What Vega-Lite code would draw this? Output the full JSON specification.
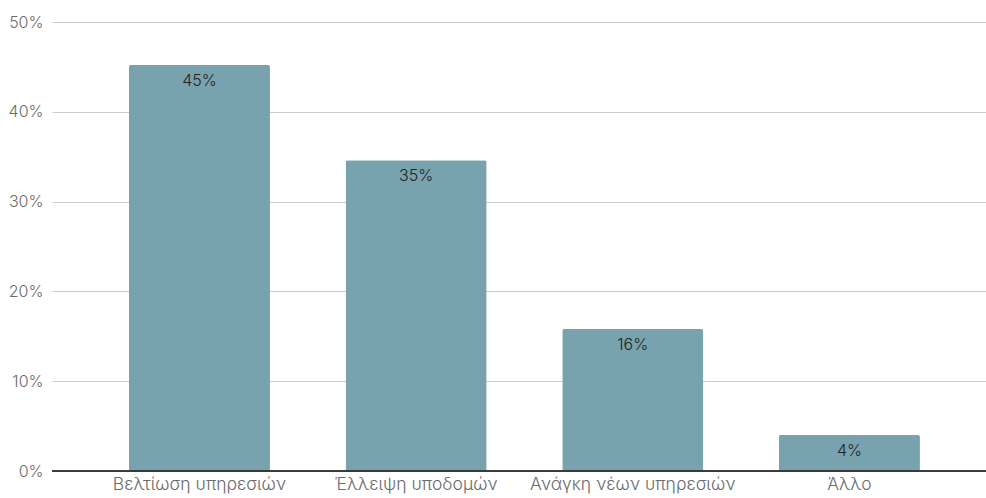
{
  "$schema": "https://vega.github.io/schema/vega-lite/v6.json",
  "width": 934,
  "height": 449,
  "autosize": {"type": "none"},
  "padding": {"left": 52, "top": 22, "right": 0, "bottom": 27},
  "background": "white",
  "config": {"view": {"stroke": null}, "font": "Inter"},
  "data": {"values": [
    {"category": "Βελτίωση υπηρεσιών", "value": 0.452},
    {"category": "Έλλειψη υποδομών", "value": 0.346},
    {"category": "Ανάγκη νέων υπηρεσιών", "value": 0.158},
    {"category": "Άλλο", "value": 0.040}
  ]},
  "encoding": {
    "x": {"field": "category", "type": "nominal", "sort": null,
      "scale": {"paddingInner": 0.349, "paddingOuter": 0.33, "align": 0.538},
      "axis": {"title": null, "labelAngle": 0, "labelFontSize": 17.5, "labelFontWeight": 300, "labelColor": "#6b6b6b", "ticks": false, "domain": false, "labelPadding": 4, "labelOverlap": false, "labelLimit": 0}},
    "y": {"field": "value", "type": "quantitative",
      "scale": {"domain": [0, 0.5]},
      "axis": {"title": null, "format": ".0%", "values": [0, 0.1, 0.2, 0.3, 0.4, 0.5], "labelFontSize": 16, "labelFontWeight": 300, "labelColor": "#6b6b6b", "ticks": false, "domain": false, "labelPadding": 9, "labelOverlap": false, "labelBound": false, "labelFlush": false, "gridColor": "#cccccc", "gridWidth": 1}}
  },
  "layer": [
    {"mark": {"type": "bar", "color": "#78a3ae", "cornerRadiusTopLeft": 2, "cornerRadiusTopRight": 2}},
    {"mark": {"type": "rule", "color": "#333333", "strokeWidth": 1.2}, "encoding": {"y": {"datum": 0}, "x": null}},
    {"mark": {"type": "text", "baseline": "middle", "dy": 16, "fontSize": 16, "fontWeight": 300, "color": "#222222"},
      "encoding": {"text": {"field": "value", "type": "quantitative", "format": ".0%"}}}
  ]
}
